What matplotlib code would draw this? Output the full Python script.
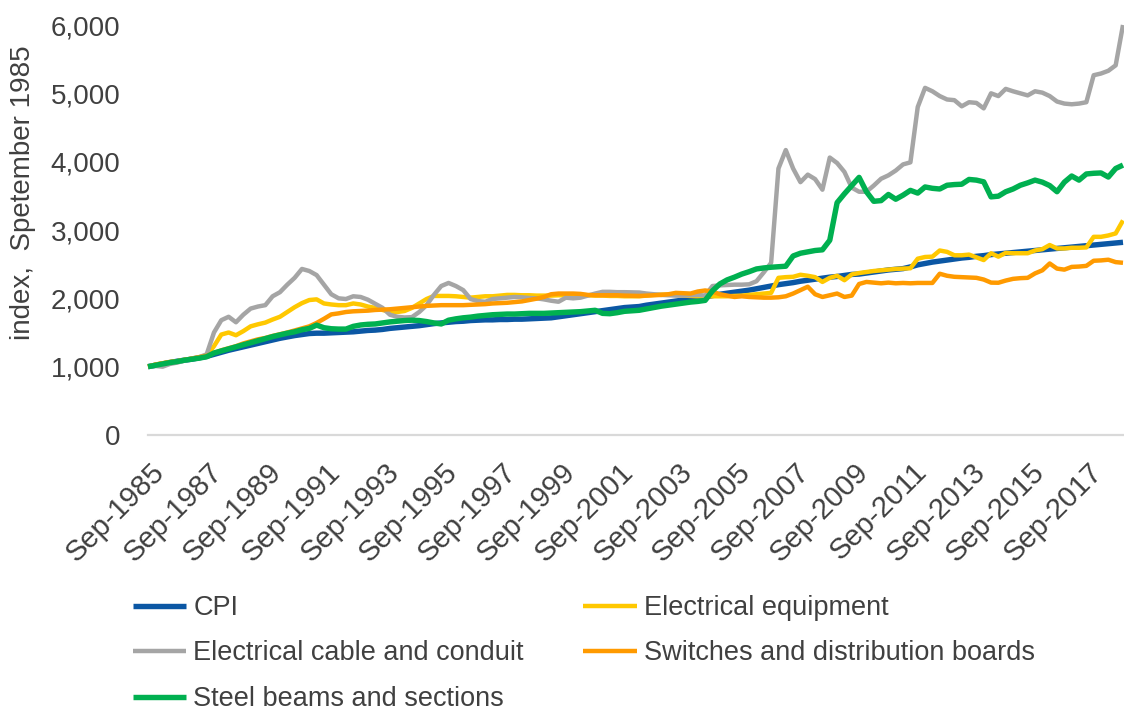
import matplotlib
matplotlib.use("Agg")
import matplotlib.pyplot as plt
import matplotlib.transforms as mtransforms
from matplotlib.ticker import FuncFormatter

plt.rcParams['font.family'] = ['Liberation Sans', 'DejaVu Sans']
text_color = '#404040'

# quarterly index values, Sep-1985 = 1000, through Dec-2018
cpi = [1000, 1020, 1040, 1060, 1080, 1095, 1110, 1130,
       1150, 1180, 1210, 1240, 1265, 1290, 1315, 1340,
       1365, 1390, 1415, 1435, 1455, 1470, 1485, 1490,
       1490, 1495, 1500, 1505, 1510, 1520, 1530, 1535,
       1545, 1560, 1570, 1580, 1590, 1600, 1615, 1630,
       1640, 1650, 1660, 1665, 1675, 1680, 1685, 1685,
       1690, 1690, 1695, 1695, 1700, 1705, 1710, 1715,
       1730, 1745, 1760, 1775, 1790, 1805, 1820, 1835,
       1850, 1865, 1872, 1880, 1900, 1915, 1930, 1945, 1960,
       1975, 1990, 2005, 2020, 2040, 2060, 2075, 2090,
       2105, 2120, 2140, 2160, 2180, 2200, 2215, 2230,
       2250, 2265, 2280, 2295, 2310, 2320, 2335, 2350,
       2355, 2370, 2385, 2400, 2415, 2425, 2435, 2460,
       2490, 2510, 2530, 2545, 2560, 2575, 2590, 2600,
       2615, 2625, 2640, 2650, 2660, 2670, 2680, 2690,
       2700, 2710, 2720, 2730, 2740, 2750, 2760, 2770,
       2780, 2790, 2800, 2810, 2820]

elec_equipment = [1000, 1030, 1050, 1065, 1080, 1100, 1115, 1130,
                  1160, 1300, 1470, 1500, 1460, 1520, 1590, 1620,
                  1645, 1690, 1730, 1800, 1870, 1930, 1975, 1985,
                  1925, 1910, 1900, 1900, 1925, 1910, 1880, 1860,
                  1830, 1800, 1800, 1815, 1860, 1925, 1990, 2035,
                  2035, 2035, 2030, 2020, 2010, 2020, 2030, 2030,
                  2040, 2050, 2050, 2045, 2045, 2040, 2040, 2040,
                  2045, 2045, 2050, 2050, 2045, 2040, 2040, 2035,
                  2035, 2030, 2030, 2030, 2040, 2050, 2055, 2055, 2050,
                  2040, 2035, 2030, 2030, 2030, 2030, 2030, 2035,
                  2040, 2050, 2060, 2070, 2080, 2300, 2310, 2315,
                  2345, 2330, 2310, 2240, 2300, 2330, 2265, 2350,
                  2370, 2385, 2400, 2410, 2420, 2430, 2435, 2440,
                  2580, 2605, 2610, 2700, 2680, 2630, 2630, 2640,
                  2600, 2560, 2660, 2610, 2665, 2660, 2660, 2660,
                  2700, 2720, 2780, 2730, 2730, 2740, 2740, 2745,
                  2900, 2900, 2920, 2950, 3140]

cable_conduit = [1000, 1010, 1000, 1040, 1060, 1090, 1120, 1140,
                 1180, 1500, 1680, 1730, 1650, 1760, 1850, 1880,
                 1900, 2030, 2090, 2200, 2300, 2430, 2400, 2340,
                 2200, 2060, 2000, 1990, 2030, 2020, 1980, 1920,
                 1860, 1760, 1730, 1720, 1725, 1800, 1900, 2050,
                 2180, 2225, 2180, 2120, 1990, 1960, 1950, 1990,
                 2000, 2010, 2020, 2015, 2005, 2000, 1985, 1965,
                 1950, 2010, 2000, 2010, 2040, 2070, 2095, 2095,
                 2090, 2090, 2088, 2085, 2070, 2060, 2050, 2045, 2040,
                 2040, 2045, 2050, 2040, 2180, 2190, 2195, 2200,
                 2200, 2205, 2250, 2380, 2520, 3900, 4170, 3900,
                 3700, 3810, 3745, 3590, 4060, 3980, 3850, 3620,
                 3560, 3560, 3650, 3750, 3800, 3870, 3960, 3990,
                 4800, 5080, 5030, 4960, 4910, 4900, 4810, 4870,
                 4860, 4780, 5000, 4960, 5065, 5030, 5000, 4970,
                 5030, 5010, 4960, 4880, 4850, 4840, 4850, 4870,
                 5265, 5290, 5330, 5410, 6000]

switches_boards = [1000, 1030, 1050, 1070, 1080, 1100, 1120, 1140,
                   1160, 1200, 1240, 1270, 1300, 1340, 1370, 1400,
                   1420, 1450, 1475, 1500, 1530, 1560, 1590, 1640,
                   1700, 1765, 1780, 1800, 1810, 1815, 1820, 1830,
                   1835, 1840, 1850, 1860, 1870, 1880, 1890, 1895,
                   1900, 1900, 1900, 1900, 1905, 1910, 1915, 1925,
                   1930, 1935, 1945, 1955, 1975, 1995, 2020, 2060,
                   2070, 2070, 2070, 2065, 2050, 2045, 2045, 2045,
                   2045, 2040, 2038, 2035, 2040, 2045, 2050, 2060, 2080,
                   2075, 2070, 2100, 2115, 2100, 2060, 2040, 2020,
                   2030, 2020, 2015, 2010, 2010, 2015, 2030, 2070,
                   2120, 2170, 2060, 2020, 2045, 2070, 2020, 2040,
                   2210, 2240, 2230, 2220, 2230, 2220, 2225, 2220,
                   2225, 2225, 2225, 2360, 2330, 2315, 2310, 2305,
                   2300, 2275, 2230, 2228, 2260, 2285, 2295, 2300,
                   2365, 2410, 2510, 2435, 2420, 2460, 2465, 2475,
                   2550, 2555, 2565, 2530, 2520]

steel_beams = [1000, 1020, 1040, 1060, 1075, 1095, 1110, 1125,
               1145, 1200, 1230, 1260, 1290, 1320, 1350, 1380,
               1410, 1440, 1465, 1490, 1510, 1540, 1560, 1608,
               1570, 1555, 1550, 1550, 1590, 1610, 1620, 1625,
               1640, 1655, 1665, 1675, 1680, 1675, 1660, 1640,
               1625, 1680, 1700, 1715, 1725, 1740, 1750, 1760,
               1765, 1770, 1770, 1775, 1780, 1780, 1780, 1785,
               1790, 1795, 1800, 1805, 1815, 1825, 1780, 1775,
               1790, 1810, 1818, 1825, 1845, 1865, 1885, 1900, 1915,
               1930, 1945, 1955, 1970, 2110, 2210, 2270, 2310,
               2355, 2390, 2430, 2445, 2455, 2462, 2470, 2620,
               2660, 2680, 2700, 2710, 2850, 3400, 3530, 3650,
               3770, 3560, 3420, 3430, 3520, 3450, 3510, 3580,
               3540, 3630, 3610, 3600, 3655, 3665, 3670, 3740,
               3730, 3705, 3485, 3495, 3560, 3600, 3655, 3690,
               3730, 3700, 3650, 3560, 3700, 3790, 3730, 3820,
               3830, 3835, 3775, 3900, 3950]

tick_labels = ['Sep-1985', 'Sep-1987', 'Sep-1989', 'Sep-1991', 'Sep-1993',
               'Sep-1995', 'Sep-1997', 'Sep-1999', 'Sep-2001', 'Sep-2003',
               'Sep-2005', 'Sep-2007', 'Sep-2009', 'Sep-2011', 'Sep-2013',
               'Sep-2015', 'Sep-2017']

series = [
    ('CPI', cpi, '#0B57A4', 3.9),
    ('Electrical equipment', elec_equipment, '#FFC800', 3.2),
    ('Electrical cable and conduit', cable_conduit, '#A5A5A5', 3.2),
    ('Switches and distribution boards', switches_boards, '#FF9A00', 3.2),
    ('Steel beams and sections', steel_beams, '#00B050', 3.9),
]

fig = plt.figure(figsize=(11.24, 7.11), dpi=100)
ax = fig.add_axes([148 / 1124, 276 / 711, 975 / 1124, 410 / 711])

x = list(range(len(cpi)))
handles = {}
for name, vals, col, lw in series:
    h, = ax.plot(x, vals, color=col, lw=lw, solid_joinstyle='round',
                 solid_capstyle='butt', clip_on=False, label=name)
    handles[name] = h

ax.set_xlim(0, len(cpi) - 1)
ax.set_ylim(0, 6000)
ax.axhline(0, color='#D9D9D9', lw=1.6, zorder=0, clip_on=False)
for s in ax.spines.values():
    s.set_visible(False)

ax.set_yticks(range(0, 7000, 1000))
ax.yaxis.set_major_formatter(FuncFormatter(lambda v, p: f'{int(v):,}'))
ax.tick_params(axis='y', length=0, pad=20, labelsize=20, labelcolor=text_color)

ax.set_xticks(range(0, len(cpi), 8))
ax.set_xticklabels(tick_labels)
ax.tick_params(axis='x', length=0, pad=0, labelsize=21, labelcolor=text_color)
shift = mtransforms.ScaledTranslation(2 / 100, -23 / 100, fig.dpi_scale_trans)
for lab in ax.get_xticklabels():
    lab.set_rotation(45)
    lab.set_ha('right')
    lab.set_va('top')
    lab.set_rotation_mode('anchor')
    lab.set_transform(lab.get_transform() + shift)

fig.text(23 / 1124, 1 - 193 / 711, 'index,  Spetember 1985', rotation=90,
         ha='center', va='center', fontsize=20, color=text_color)

order = ['CPI', 'Electrical cable and conduit', 'Steel beams and sections',
         'Electrical equipment', 'Switches and distribution boards']
leg = fig.legend([handles[n] for n in order], order, ncol=2, frameon=False,
                 loc='upper left', bbox_to_anchor=(133 / 1124, 1 - 595 / 711),
                 borderpad=0, borderaxespad=0, fontsize=19.5,
                 handlelength=1.97, handletextpad=0.26, columnspacing=2.2,
                 labelspacing=0.72)
for t in leg.get_texts():
    t.set_color(text_color)

fig.savefig('out.png', dpi=100)
